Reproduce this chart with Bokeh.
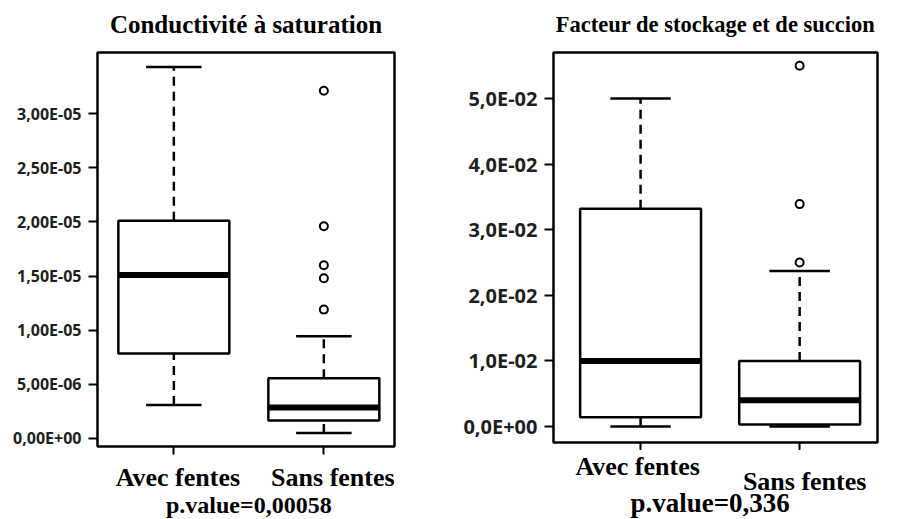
from bokeh.plotting import figure
from bokeh.models import Range1d, FixedTicker
from bokeh.core.properties import value
from bokeh.layouts import row, column
from bokeh.embed import file_html
from bokeh.resources import INLINE

# ---------------- data ----------------
categories = ["Avec fentes", "Sans fentes"]

# Conductivité à saturation
k_title = "Conductivité à saturation"
k_lower = [3.1e-6, 0.5e-6]
k_q1 = [7.85e-6, 1.66e-6]
k_median = [15.1e-6, 2.86e-6]
k_q3 = [20.1e-6, 5.57e-6]
k_upper = [34.3e-6, 9.45e-6]
k_out_cat = ["Sans fentes", "Sans fentes", "Sans fentes", "Sans fentes", "Sans fentes"]
k_out_val = [32.1e-6, 19.6e-6, 16.0e-6, 14.8e-6, 11.9e-6]
k_ticks = [0, 5e-6, 1e-5, 1.5e-5, 2e-5, 2.5e-5, 3e-5]
k_tick_labels = ["0,00E+00", "5,00E-06", "1,00E-05", "1,50E-05", "2,00E-05", "2,50E-05", "3,00E-05"]
k_pvalue = "p.value=0,00058"

# Facteur de stockage et de succion
s_title = "Facteur de stockage et de succion"
s_lower = [0.0, 0.0]
s_q1 = [0.0014, 0.0003]
s_median = [0.0100, 0.0040]
s_q3 = [0.0332, 0.0100]
s_upper = [0.0500, 0.0237]
s_out_cat = ["Sans fentes", "Sans fentes", "Sans fentes"]
s_out_val = [0.0550, 0.0339, 0.0250]
s_ticks = [0, 0.01, 0.02, 0.03, 0.04, 0.05]
s_tick_labels = ["0,0E+00", "1,0E-02", "2,0E-02", "3,0E-02", "4,0E-02", "5,0E-02"]
s_pvalue = "p.value=0,336"

SERIF = "Liberation Serif"
SANS = "Open Sans"


def strip(width, height, xr, borders):
    t = figure(width=width, height=height, output_backend="svg", toolbar_location=None,
               x_range=xr, y_range=Range1d(0, height), x_axis_type=None, y_axis_type=None,
               min_border_left=borders[0], min_border_right=borders[1],
               min_border_top=0, min_border_bottom=0)
    t.outline_line_color = None
    t.grid.visible = False
    t.background_fill_color = "white"
    t.border_fill_color = "white"
    return t


def boxplot(title, lower, q1, med, q3, upper, out_cat, out_val, ticks, tick_labels,
            pvalue, x_range, y_range, width, height, borders, tick_font, box_w,
            top_h, title_y, title_font, text_h, cat_y, cat_dx, p_y, p_font, p_dx):
    xr = Range1d(*x_range)
    p = figure(width=width, height=height, output_backend="svg", toolbar_location=None,
               x_range=xr, y_range=Range1d(*y_range),
               min_border_left=borders[0], min_border_right=borders[1],
               min_border_top=borders[2], min_border_bottom=borders[3])
    p.background_fill_color = "white"
    p.border_fill_color = "white"
    p.grid.visible = False
    p.outline_line_color = "black"
    p.outline_line_width = 2.5

    xs = [i + 1 for i in range(len(categories))]
    half = box_w / 2
    cap = box_w / 4

    # whiskers
    p.segment(x0=xs, x1=xs, y0=q3, y1=upper, line_color="black", line_width=2.5, line_dash="9 6")
    p.segment(x0=xs, x1=xs, y0=lower, y1=q1, line_color="black", line_width=2.5, line_dash="9 6")
    # caps
    p.segment(x0=[x - cap for x in xs], x1=[x + cap for x in xs], y0=upper, y1=upper,
              line_color="black", line_width=2.5)
    p.segment(x0=[x - cap for x in xs], x1=[x + cap for x in xs], y0=lower, y1=lower,
              line_color="black", line_width=2.5)
    # boxes
    p.quad(left=[x - half for x in xs], right=[x + half for x in xs], bottom=q1, top=q3,
           fill_color="white", line_color="black", line_width=2.5)
    # medians
    p.segment(x0=[x - half for x in xs], x1=[x + half for x in xs], y0=med, y1=med,
              line_color="black", line_width=6)
    # outliers
    ox = [categories.index(c) + 1 for c in out_cat]
    p.scatter(ox, out_val, marker="circle", size=8, fill_color="white",
              line_color="black", line_width=2)

    # y axis
    ya = p.yaxis[0]
    ya.ticker = FixedTicker(ticks=ticks)
    ya.major_label_overrides = {t: l for t, l in zip(ticks, tick_labels)}
    ya.axis_line_color = None
    ya.major_tick_in = 0
    ya.major_tick_out = 9
    ya.major_tick_line_width = 2
    ya.minor_tick_line_color = None
    ya.major_label_standoff = 7
    ya.major_label_text_font = SANS
    ya.major_label_text_font_style = "bold"
    ya.major_label_text_font_size = tick_font
    ya.major_label_text_color = "#1e1e1e"

    # x axis: ticks only
    xa = p.xaxis[0]
    xa.ticker = FixedTicker(ticks=xs)
    xa.major_label_overrides = {x: "" for x in xs}
    xa.major_label_text_font_size = "1px"
    xa.major_label_standoff = 0
    xa.axis_line_color = None
    xa.major_tick_in = 0
    xa.major_tick_out = 8
    xa.major_tick_line_width = 2
    xa.minor_tick_line_color = None

    # title strip above, sharing the x range
    top = strip(width, top_h, xr, borders)
    top.text(x=[sum(x_range) / 2], y=[title_y], text=[title], text_align="center",
             text_baseline="middle", text_font=value(SERIF), text_font_style="bold",
             text_font_size=title_font, text_color="black")

    # text strip below, sharing the x range
    t = strip(width, text_h, xr, borders)
    for x, name, y, dx in zip(xs, categories, cat_y, cat_dx):
        t.text(x=[x], y=[y], text=[name], x_offset=dx, text_align="center",
               text_baseline="middle", text_font=value(SERIF), text_font_style="bold",
               text_font_size="26px", text_color="black")
    t.text(x=[1.5], y=[p_y], text=[pvalue], x_offset=p_dx, text_align="center",
           text_baseline="middle", text_font=value(SERIF), text_font_style="bold",
           text_font_size=p_font, text_color="black")
    return column(top, p, t, spacing=0)


c1 = boxplot(k_title, k_lower, k_q1, k_median, k_q3, k_upper,
             k_out_cat, k_out_val, k_ticks, k_tick_labels, k_pvalue,
             (0.491, 2.471), (-0.74e-6, 35.64e-6), 460, 410, (97, 66, 4, 12), "16px", 0.74,
             48, 24, "25px", 61, [42, 42], [4, 9], 15, "24px", 0)
c2 = boxplot(s_title, s_lower, s_q1, s_median, s_q3, s_upper,
             s_out_cat, s_out_val, s_ticks, s_tick_labels, s_pvalue,
             (0.4525, 2.4895), (-0.00244, 0.05701), 438, 402, (87, 21, 4, 8), "20px", 0.76,
             48, 24, "22.5px", 69, [53, 38], [-3, 5], 17, "27px", -10)

layout = row(c1, c2, spacing=0)
open("out.html", "w").write(file_html(layout, INLINE))
